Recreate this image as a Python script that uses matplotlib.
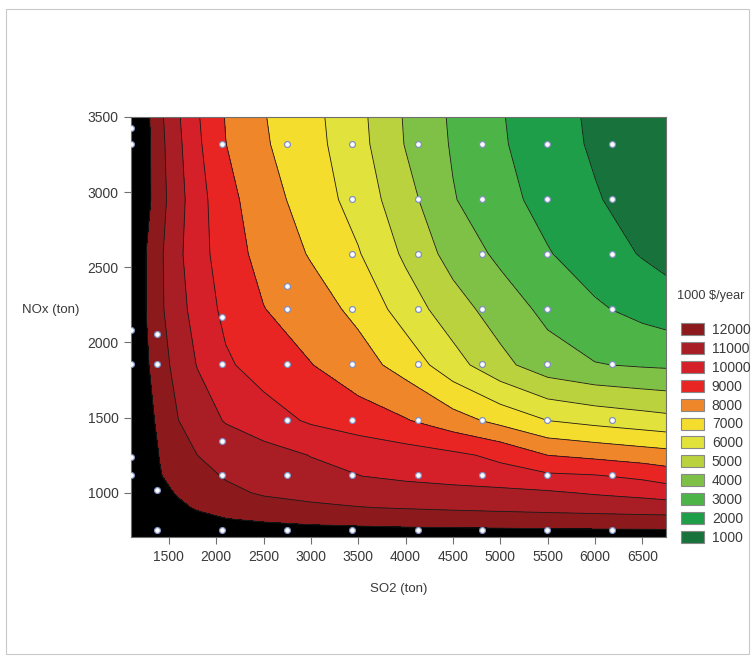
import numpy as np
import matplotlib.pyplot as plt
from matplotlib.colors import ListedColormap, BoundaryNorm
from matplotlib.patches import Patch, Rectangle

plt.rcParams['font.family'] = ['Liberation Sans', 'DejaVu Sans']

# grid of annual cost (1000 $/year) over SO2 / NOx caps
so2 = [1100, 1250, 1400, 1600, 1800, 2100, 2500, 3000, 3500, 4000, 4500, 5000, 5500, 6000, 6500, 6750]
nox = [705, 760, 820, 900, 1000, 1110, 1250, 1480, 1850, 2220, 2590, 2950, 3320, 3500]
cost = [
    [15000, 15000, 15000, 14900, 14700, 14400, 14000, 13800, 13700, 13650, 13600, 13600, 13600, 13600, 13600, 13600],
    [15000, 15000, 14700, 14400, 14100, 13600, 13300, 13200, 13150, 13100, 13070, 13040, 13000, 12980, 12960, 12950],
    [15000, 14800, 14400, 13900, 13300, 13050, 12900, 12750, 12650, 12550, 12500, 12450, 12400, 12370, 12340, 12330],
    [15000, 14500, 13900, 13200, 12900, 12600, 12350, 12150, 12030, 11950, 11870, 11800, 11730, 11650, 11550, 11500],
    [14800, 14200, 13300, 12900, 12600, 12200, 11900, 11750, 11620, 11500, 11400, 11280, 11120, 10900, 10700, 10550],
    [14700, 13800, 13050, 12700, 12300, 11930, 11680, 11290, 11020, 10780, 10560, 10370, 10180, 10080, 9800, 9550],
    [14600, 13500, 12980, 12400, 12000, 11740, 11390, 10970, 10710, 10450, 10190, 9790, 8990, 8750, 8500, 8380],
    [14500, 13400, 12790, 12010, 11550, 10925, 10430, 9875, 9470, 9070, 8420, 7710, 7000, 6700, 6450, 6320],
    [14500, 13200, 12450, 11625, 10960, 10140, 9600, 9030, 8410, 7615, 6400, 5290, 4430, 4050, 3900, 3850],
    [14300, 13050, 12200, 11360, 10600, 9760, 9030, 8450, 7760, 6540, 5440, 4530, 3750, 3150, 2700, 2500],
    [14300, 13050, 12200, 11190, 10410, 9490, 8670, 7920, 7070, 5820, 4620, 3790, 3065, 2480, 1930, 1680],
    [14500, 13400, 12400, 11340, 10400, 9330, 8425, 7545, 6610, 5360, 4065, 3315, 2670, 2090, 1550, 1290],
    [14500, 13400, 12330, 11200, 10190, 9015, 8110, 7355, 6340, 4950, 3900, 3110, 2470, 1860, 1340, 1100],
    [14500, 13350, 12250, 11100, 10100, 8950, 8050, 7300, 6280, 4900, 3850, 3070, 2420, 1820, 1300, 1060],
]

# sampled design points
dot_so2 = ([1100] * 6 + [1373] * 4 + [2061] * 6 + [2750] * 7
           + [3439] * 8 + [4127] * 8 + [4805] * 8 + [5494] * 8 + [6182] * 8)
dot_nox = ([3425, 3322, 2080, 1853, 1237, 1117]
           + [2053, 1853, 1015, 749]
           + [3322, 2168, 1853, 1343, 1115, 749]
           + [3322, 2374, 2219, 1853, 1481, 1115, 749]
           + [3322, 2955, 2589, 2219, 1853, 1481, 1115, 749] * 5)

legend_labels = ['12000', '11000', '10000', '9000', '8000', '7000',
                 '6000', '5000', '4000', '3000', '2000', '1000']
legend_colors = ['#8c1a1c', '#a91d24', '#d5202a', '#e82522', '#f0862a', '#f4dd2c',
                 '#e2e23c', '#bad23d', '#7fc147', '#4db548', '#1f9e49', '#17733b']

levels = [1000, 2000, 3000, 4000, 5000, 6000, 7000, 8000, 9000, 10000, 11000, 12000, 13000, 16000]
band_colors = legend_colors[::-1] + ['#000000']
cmap = ListedColormap(band_colors)
norm = BoundaryNorm(levels, cmap.N)

text_color = '#3a3a3a'

fig = plt.figure(figsize=(7.55, 6.62), dpi=100)
fig.patches.append(Rectangle((0.008, 0.012), 0.984, 0.974, transform=fig.transFigure,
                             fill=False, edgecolor='#c8c8c8', linewidth=0.8))
ax = fig.add_axes([0.1735, 0.1888, 0.7086, 0.6345])

X, Y = np.meshgrid(so2, nox)
Z = np.array(cost, dtype=float)
ax.contourf(X, Y, Z, levels=levels, cmap=cmap, norm=norm)
ax.contour(X, Y, Z, levels=levels[1:-1], colors='#1a1a1a', linewidths=0.6)

ax.scatter(dot_so2, dot_nox, s=18, facecolor='white', edgecolor='#8090c0',
           linewidth=0.9, zorder=5)

ax.set_xlim(1100, 6750)
ax.set_ylim(705, 3500)
ax.set_xticks(range(1500, 7000, 500))
ax.set_yticks(range(1000, 4000, 500))
ax.tick_params(axis='both', labelsize=10, labelcolor=text_color, color='#707070',
               length=5, width=0.8, pad=4)
for sp in ax.spines.values():
    sp.set_color('#707070')
    sp.set_linewidth(0.8)

ax.set_xlabel('SO2 (ton)', fontsize=9.5, color=text_color, labelpad=14)
ax.set_ylabel('NOx (ton)', fontsize=9.5, color=text_color, rotation=0,
              ha='left', va='center')
ax.yaxis.set_label_coords(-0.204, 0.54)

handles = [Patch(facecolor=c, edgecolor='#888888', linewidth=0.8) for c in legend_colors]
fig.legend(handles, legend_labels, loc='upper left', bbox_to_anchor=(0.902, 0.512),
           frameon=False, fontsize=10, handlelength=1.62, handleheight=0.95,
           labelspacing=0.35, handletextpad=0.6, borderpad=0, borderaxespad=0,
           labelcolor=text_color)
fig.text(0.897, 0.553, '1000 \\$/year', fontsize=9.2, color=text_color, ha='left', va='center')

fig.savefig('out.png', dpi=100)
